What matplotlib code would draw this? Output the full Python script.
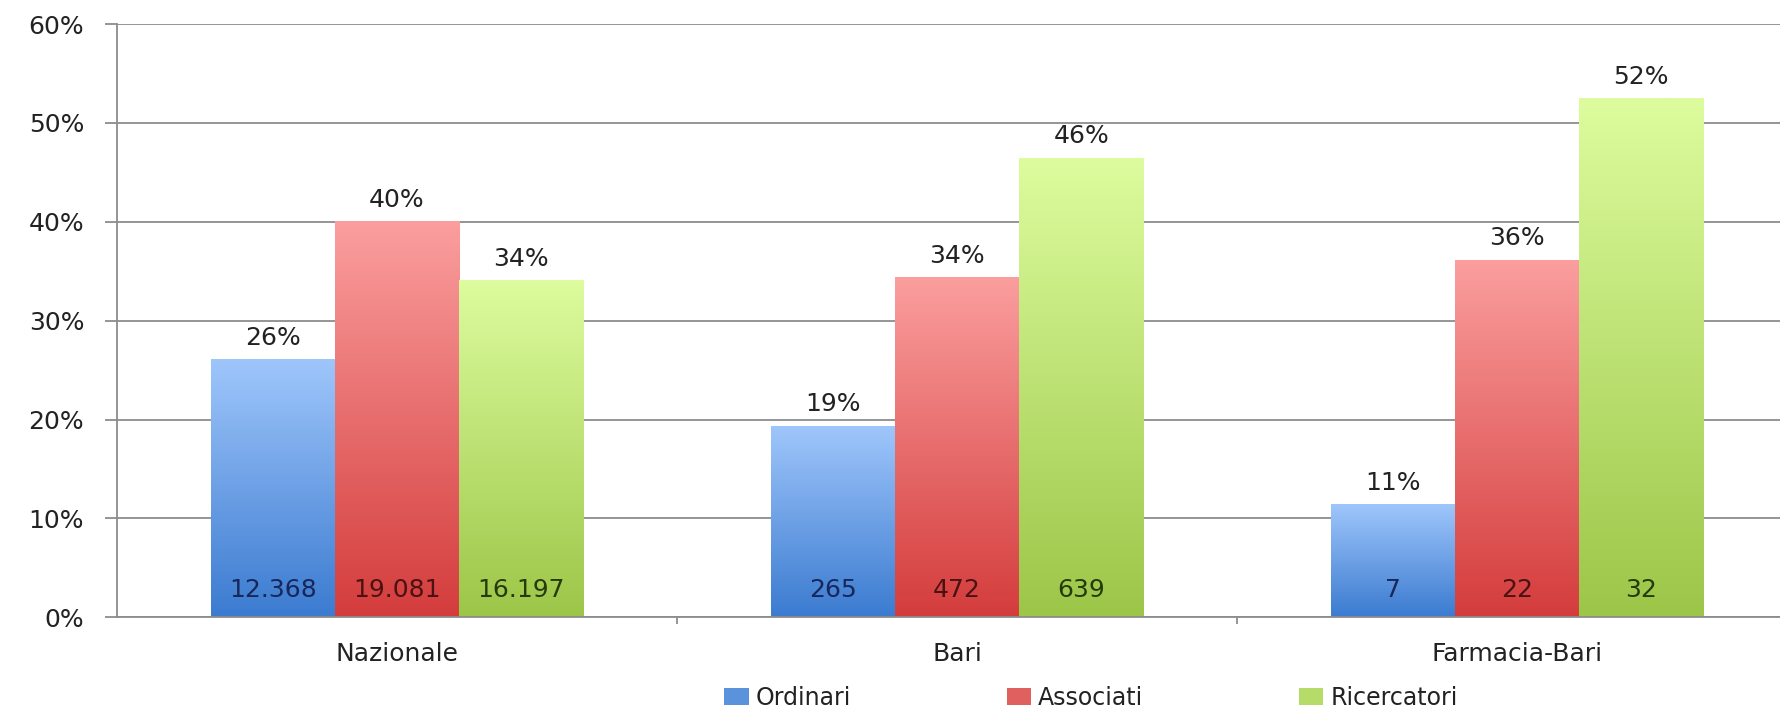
import numpy as np
import matplotlib
matplotlib.use('Agg')
import matplotlib.pyplot as plt
from matplotlib.colors import LinearSegmentedColormap
from matplotlib.patches import Patch

# data (bar heights in %, labels rounded)
categories = ['Nazionale', 'Bari', 'Farmacia-Bari']
series = ['Ordinari', 'Associati', 'Ricercatori']
pct = [[26.0, 19.3, 11.4],      # Ordinari
       [40.0, 34.3, 36.1],      # Associati
       [34.0, 46.4, 52.4]]      # Ricercatori
counts = [['12.368', '265', '7'],
          ['19.081', '472', '22'],
          ['16.197', '639', '32']]
yticks = [0, 10, 20, 30, 40, 50, 60]

# gradient colours (bottom dark -> top light)
grad = [('#3b7bd0', '#9fc6fb'),
        ('#d43c3c', '#fb9e9e'),
        ('#9cc648', '#ddfc9e')]
mid = ['#5a92dc', '#e06060', '#b5dc68']
txtcol = ['#17275a', '#4a1212', '#263a0c']

plt.rcParams['font.family'] = 'DejaVu Sans'

fig = plt.figure(figsize=(17.81, 7.10), dpi=100)
ax = fig.add_axes([117 / 1781, 92.7 / 710, 1 - 117 / 1781, (617.3 - 24) / 710])

x = np.arange(len(categories))
w = 0.222
grid_col = '#8c8c8c'

ax.set_axisbelow(True)
ax.yaxis.grid(True, color=grid_col, linewidth=1.3)

gvals = np.linspace(0, 1, 256).reshape(-1, 1)
for s in range(len(series)):
    cmap = LinearSegmentedColormap.from_list('g%d' % s, grad[s])
    xs = x + (s - 1) * w
    bars = ax.bar(xs, pct[s], w, color='none', edgecolor='none', zorder=2)
    for b, v, c in zip(bars, pct[s], counts[s]):
        x0 = b.get_x()
        ax.imshow(gvals, cmap=cmap, origin='lower', aspect='auto',
                  extent=(x0, x0 + w, 0, v), zorder=2, interpolation='bilinear')
        ax.annotate('%.0f%%' % v, (x0 + w / 2, v), xytext=(0, 22), textcoords='offset pixels',
                    ha='center', va='center', fontsize=18, color='#222222', zorder=3)
        ax.annotate(c, (x0 + w / 2, 0), xytext=(0, 27), textcoords='offset pixels',
                    ha='center', va='center', fontsize=18, color=txtcol[s], zorder=3)

ax.set_xlim(-0.5, (1781 - 397) / 560)
ax.set_ylim(0, 60)
ax.set_yticks(yticks)
ax.set_yticklabels(['%d%%' % t for t in yticks])
ax.set_xticks(x)
ax.set_xticklabels(categories)
ax.set_xticks(x[:-1] + 0.5, minor=True)

for sp in ['top', 'right']:
    ax.spines[sp].set_visible(False)
ax.spines['left'].set_color(grid_col)
ax.spines['left'].set_linewidth(1.3)
ax.spines['bottom'].set_color(grid_col)
ax.spines['bottom'].set_linewidth(1.3)

ax.tick_params(axis='y', length=8.6, width=1.3, color=grid_col, pad=15, labelsize=18,
               labelcolor='#222222')
ax.tick_params(axis='x', which='major', length=0, pad=18, labelsize=18, labelcolor='#222222')
ax.tick_params(axis='x', which='minor', length=5, width=1.3, color=grid_col)

handles = [Patch(facecolor=mid[i], edgecolor='none', label=series[i]) for i in range(3)]
fig.legend(handles=handles, loc='center', bbox_to_anchor=(1091 / 1781, 1 - 698 / 710), ncol=3,
           frameon=False, fontsize=17, handlelength=1.02, handleheight=0.7,
           handletextpad=0.3, columnspacing=6.6, borderpad=0, labelcolor='#222222')

fig.savefig('out.png', dpi=100)
